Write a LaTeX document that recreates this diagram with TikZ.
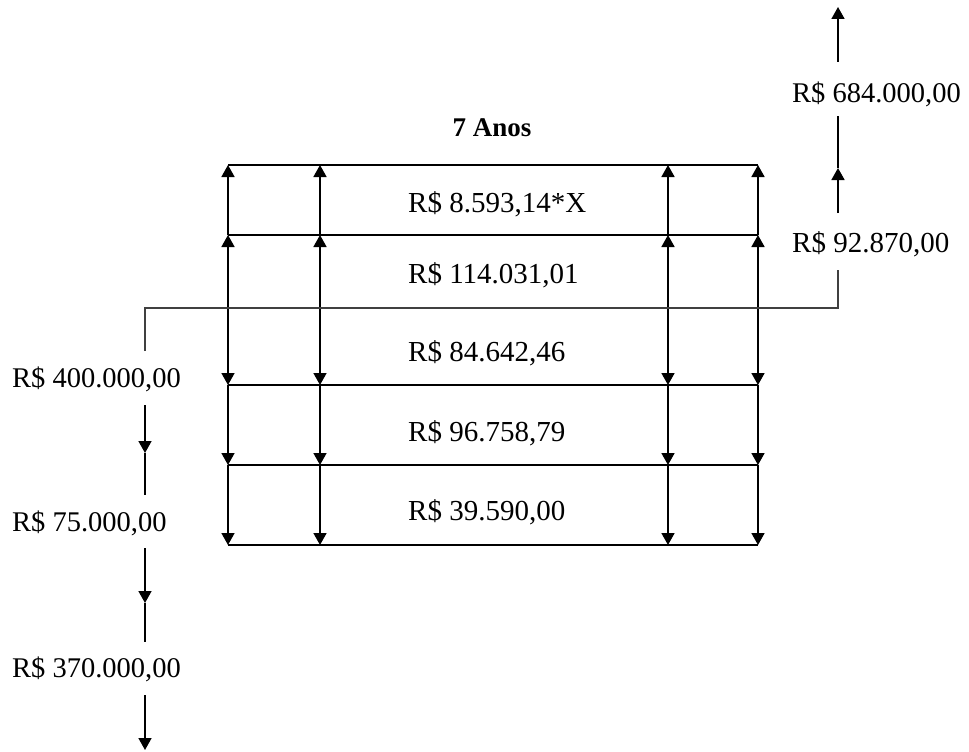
\documentclass[tikz,border=0pt]{standalone}
\usepackage{fontspec}
\setmainfont{Liberation Serif}
\usetikzlibrary{arrows.meta}
\begin{document}
\begin{tikzpicture}[x=1pt,y=-1pt,
  ln/.style={line width=1.7pt, black},
  gl/.style={line width=1.7pt, black!75},
  tip/.style={-{Triangle[width=13pt,length=12pt]}},
  mid/.style={font=\fontsize{29}{32}\selectfont, anchor=base west, inner sep=0pt},
  side/.style={font=\fontsize{28.5}{30}\selectfont, anchor=base west, inner sep=0pt},
  ttl/.style={font=\bfseries\fontsize{27}{30}\selectfont, anchor=base, inner sep=0pt}]
\useasboundingbox (0,0) rectangle (969,752);

% grid lines
\foreach \y [count=\i] in {165,235,385,465,545}
  \draw[ln] (228,\y) coordinate (h\i w) -- (758,\y) coordinate (h\i e);

% double-headed vertical arrows
\foreach \x in {228,320,668,758} {
  \draw[ln,tip] (\x,235) -- (\x,165);
  \draw[ln,tip] (\x,310) -- (\x,235);
  \draw[ln,tip] (\x,310) -- (\x,385);
  \draw[ln,tip] (\x,385) -- (\x,465);
  \draw[ln,tip] (\x,465) -- (\x,545);
}

% texts in grid
\node[ttl] (title) at (492,136) {7 Anos};
\node[mid] (r1) at (408,212) {R\$ 8.593,14*X};
\node[mid] (r2) at (408,283) {R\$ 114.031,01};
\node[mid] (r3) at (408,361) {R\$ 84.642,46};
\node[mid] (r4) at (408,441) {R\$ 96.758,79};
\node[mid] (r5) at (408,520) {R\$ 39.590,00};

% side labels
\node[side] (v400) at (12,387) {R\$ 400.000,00};
\node[side] (v75)  at (12,531) {R\$ 75.000,00};
\node[side] (v370) at (12,677) {R\$ 370.000,00};
\node[mid] (v92)  at (792,252) {R\$ 92.870,00};
\node[side] (v684) at (792,102) {R\$ 684.000,00};

% connector coordinates
\coordinate (La) at (145,351);
\coordinate (Lc) at (145,308);
\coordinate (Rc) at (838,308);
\coordinate (Ra) at (838,270);
\coordinate (L2s) at (145,405); \coordinate (L2m) at (145,453); \coordinate (L2e) at (145,495);
\coordinate (L3s) at (145,548); \coordinate (L3m) at (145,603); \coordinate (L3e) at (145,642);
\coordinate (L4s) at (145,695); \coordinate (L4e) at (145,750);
\coordinate (R2s) at (838,213); \coordinate (R2m) at (838,168); \coordinate (R2e) at (838,116);
\coordinate (R3s) at (838,62);  \coordinate (R3e) at (838,7);

% main connecting line
\draw[gl] (La) -- (Lc) -- (Rc) -- (Ra);

% left chain
\draw[ln,tip] (L2s) -- (L2m); \draw[ln] (L2m) -- (L2e);
\draw[ln,tip] (L3s) -- (L3m); \draw[ln] (L3m) -- (L3e);
\draw[ln,tip] (L4s) -- (L4e);

% right chain
\draw[ln,tip] (R2s) -- (R2m); \draw[ln] (R2m) -- (R2e);
\draw[ln,tip] (R3s) -- (R3e);
\end{tikzpicture}
\end{document}
